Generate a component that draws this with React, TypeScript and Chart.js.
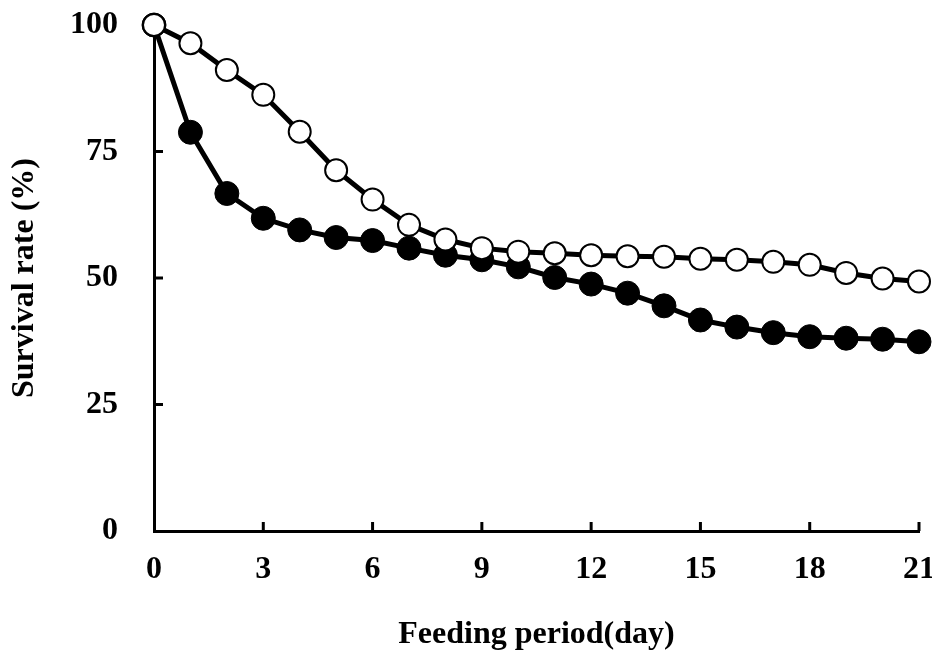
import React, { useEffect, useRef } from "react";
import { Chart, registerables } from "chart.js";

Chart.register(...registerables);

const days = [0, 1, 2, 3, 4, 5, 6, 7, 8, 9, 10, 11, 12, 13, 14, 15, 16, 17, 18, 19, 20, 21];
const openSeries = [100, 96.4, 91.1, 86.2, 78.9, 71.3, 65.5, 60.5, 57.6, 55.9, 55.2, 54.9, 54.5, 54.3, 54.2, 53.8, 53.6, 53.2, 52.6, 51.0, 49.9, 49.3];
const filledSeries = [100, 78.8, 66.7, 61.8, 59.5, 58.0, 57.4, 55.9, 54.5, 53.6, 52.2, 50.1, 48.8, 47.0, 44.5, 41.7, 40.3, 39.2, 38.4, 38.1, 37.9, 37.4];
const xTicks = [0, 3, 6, 9, 12, 15, 18, 21];
const yTicks = [0, 25, 50, 75, 100];
const xTitle = "Feeding period(day)";
const yTitle = "Survival rate (%)";

const FONT = "'Liberation Serif', 'Times New Roman', serif";

const innerTicks = {
  id: "innerTicks",
  beforeDatasetsDraw(chart: any) {
    const { ctx, scales, chartArea } = chart;
    const x = scales.x;
    const y = scales.y;
    ctx.save();
    ctx.strokeStyle = "#000";
    ctx.lineWidth = 3;
    xTicks.forEach((v) => {
      if (v === 0) return;
      const px = x.getPixelForValue(v);
      ctx.beginPath();
      ctx.moveTo(px, chartArea.bottom);
      ctx.lineTo(px, chartArea.bottom - 9);
      ctx.stroke();
    });
    yTicks.forEach((v) => {
      if (v === 0) return;
      const py = y.getPixelForValue(v);
      ctx.beginPath();
      ctx.moveTo(chartArea.left, py);
      ctx.lineTo(chartArea.left + 9, py);
      ctx.stroke();
    });
    ctx.restore();
  },
};

export default function App() {
  const ref = useRef<HTMLCanvasElement | null>(null);

  useEffect(() => {
    if (!ref.current) return;
    const chart = new Chart(ref.current, {
      type: "line",
      data: {
        datasets: [
          {
            label: "open",
            data: days.map((d, i) => ({ x: d, y: openSeries[i] })),
            borderColor: "#000",
            borderWidth: 5,
            pointRadius: 11,
            pointBorderWidth: 2,
            pointBackgroundColor: "#fff",
            pointBorderColor: "#000",
            fill: false,
            tension: 0,
            clip: false as any,
          },
          {
            label: "filled",
            data: days.map((d, i) => ({ x: d, y: filledSeries[i] })),
            borderColor: "#000",
            borderWidth: 5,
            pointRadius: 12,
            pointBorderWidth: 1,
            pointBackgroundColor: "#000",
            pointBorderColor: "#000",
            fill: false,
            tension: 0,
            clip: false as any,
          },
        ],
      },
      options: {
        animation: false,
        responsive: true,
        maintainAspectRatio: false,
        layout: { padding: { top: 25, right: 10, left: 0, bottom: 0 } },
        plugins: { legend: { display: false }, tooltip: { enabled: false } },
        scales: {
          x: {
            type: "linear",
            min: 0,
            max: 21,
            afterFit: (s: any) => {
              s.height = 125;
              s.paddingLeft = 0;
              s.paddingRight = 0;
            },
            afterBuildTicks: (s: any) => {
              s.ticks = xTicks.map((v) => ({ value: v }));
            },
            grid: { display: false, drawTicks: false },
            border: { display: true, color: "#000", width: 3 },
            ticks: {
              color: "#000",
              padding: 20,
              font: { family: FONT, size: 32, weight: "bold" },
            },
            title: {
              display: true,
              text: xTitle,
              color: "#000",
              padding: { top: 0, bottom: 2 },
              font: { family: FONT, size: 32, weight: "bold" },
            },
          },
          y: {
            type: "linear",
            min: 0,
            max: 100,
            afterFit: (s: any) => {
              s.width = 154;
              s.paddingTop = 0;
              s.paddingBottom = 0;
            },
            afterBuildTicks: (s: any) => {
              s.ticks = yTicks.map((v) => ({ value: v }));
            },
            grid: { display: false, drawTicks: false },
            border: { display: true, color: "#000", width: 3 },
            ticks: {
              color: "#000",
              padding: 36,
              font: { family: FONT, size: 32, weight: "bold" },
            },
            title: {
              display: true,
              text: yTitle,
              color: "#000",
              padding: { top: 6, bottom: 0 },
              font: { family: FONT, size: 32, weight: "bold" },
            },
          },
        },
      },
      plugins: [innerTicks],
    });
    return () => chart.destroy();
  }, []);

  return (
    <div style={{ position: "fixed", left: 0, top: 0, width: 932, height: 656, background: "#fff" }}>
      <canvas ref={ref} />
    </div>
  );
}
